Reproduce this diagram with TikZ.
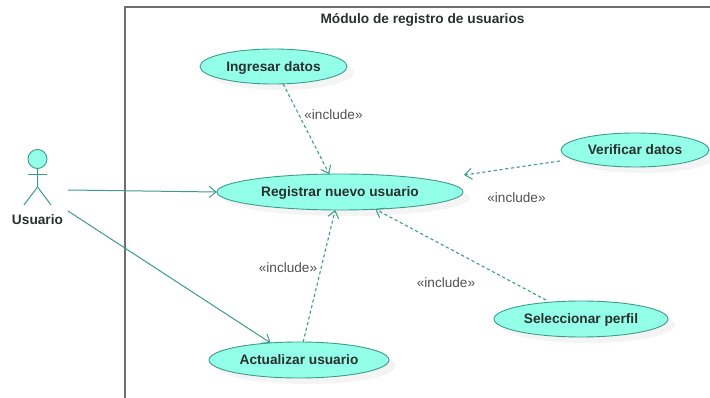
\documentclass[tikz,border=0pt]{standalone}
\usepackage{fontspec}
\setmainfont{Liberation Sans}
\usetikzlibrary{shapes.geometric,arrows.meta,shadows}
\definecolor{ucfill}{HTML}{94FFE9}
\definecolor{ucline}{HTML}{3B9C8C}
\definecolor{ucframe}{HTML}{6E6E6E}
\definecolor{uctext}{HTML}{2A2F2F}
\definecolor{ucgray}{HTML}{505050}
\tikzset{
  usecase/.style={ellipse,draw=ucline,fill=ucfill,line width=0.9pt,inner sep=0pt,outer sep=0pt,
    text=uctext,font=\fontsize{13.7}{15}\selectfont\bfseries,text height=9.5pt,text depth=0pt,
    drop shadow={shadow xshift=7pt,shadow yshift=-6pt,fill=black!40,opacity=0.11}},
  assoc/.style={draw=ucline,line width=1pt,-{Straight Barb[length=7pt,width=11pt,line width=1pt]}},
  incl/.style={assoc,line width=1.1pt,dash pattern=on 3.2pt off 2.6pt},
  stereo/.style={text=ucgray,font=\fontsize{13.6}{15}\selectfont,inner sep=0pt},
  actorline/.style={draw=ucline,line width=1pt},
}
\begin{document}
\begin{tikzpicture}[x=1pt,y=-1pt]
\useasboundingbox (0,0) rectangle (710,398);
\draw[ucframe,line width=1.3pt] (125,398) -- (125,7) -- (710,7);
\node[text=uctext,font=\fontsize{13.7}{15}\selectfont\bfseries,inner sep=0pt] (title) at (422.5,19.5) {Módulo de registro de usuarios};
% actor
\node[circle,draw=ucline,fill=ucfill,line width=0.9pt,minimum size=19pt,inner sep=0pt,outer sep=0pt] (head) at (37.5,159) {};
\coordinate (hip) at (37.5,187);
\coordinate (armL) at (28,175);
\coordinate (armR) at (47,175);
\coordinate (legL) at (24,205);
\coordinate (legR) at (51,205);
\draw[actorline] (head.south) -- (hip) -- (legL);
\draw[actorline] (hip) -- (legR);
\draw[actorline] (armL) -- (armR);
\node[text=uctext,font=\fontsize{13.7}{15}\selectfont\bfseries,inner sep=0pt] (actor) at (37.5,219.5) {Usuario};
% use cases
\node[usecase,minimum width=147pt,minimum height=35pt] (ing) at (273.5,66.5) {Ingresar datos};
\node[usecase,minimum width=246pt,minimum height=36pt] (reg) at (340,192) {Registrar nuevo usuario};
\node[usecase,minimum width=148pt,minimum height=34pt] (ver) at (635,150) {Verificar datos};
\node[usecase,minimum width=174pt,minimum height=36pt] (sel) at (581,319) {Seleccionar perfil};
\node[usecase,minimum width=180pt,minimum height=36pt] (act) at (299,360) {Actualizar usuario};
% free ends
\coordinate (a1) at (68,190);
\coordinate (a2) at (68,211);
\coordinate (v1) at (560,161);
\coordinate (v2) at (464,175);
\coordinate (s1) at (546,300);
% connectors
\draw[assoc] (a1) -- (reg.west);
\draw[assoc] (a2) -- (act.149.6);
\draw[incl] (ing.-61.5) -- (reg.121.4);
\draw[incl] (v1) -- (v2);
\draw[incl] (s1) -- (reg.-26.3);
\draw[incl] (act.77.5) -- (reg.-105.5);
% labels
\node[stereo] (l1) at (333.5,114.5) {«include»};
\node[stereo] (l2) at (516.5,197.5) {«include»};
\node[stereo] (l3) at (288,268) {«include»};
\node[stereo] (l4) at (446,283) {«include»};
\end{tikzpicture}
\end{document}
